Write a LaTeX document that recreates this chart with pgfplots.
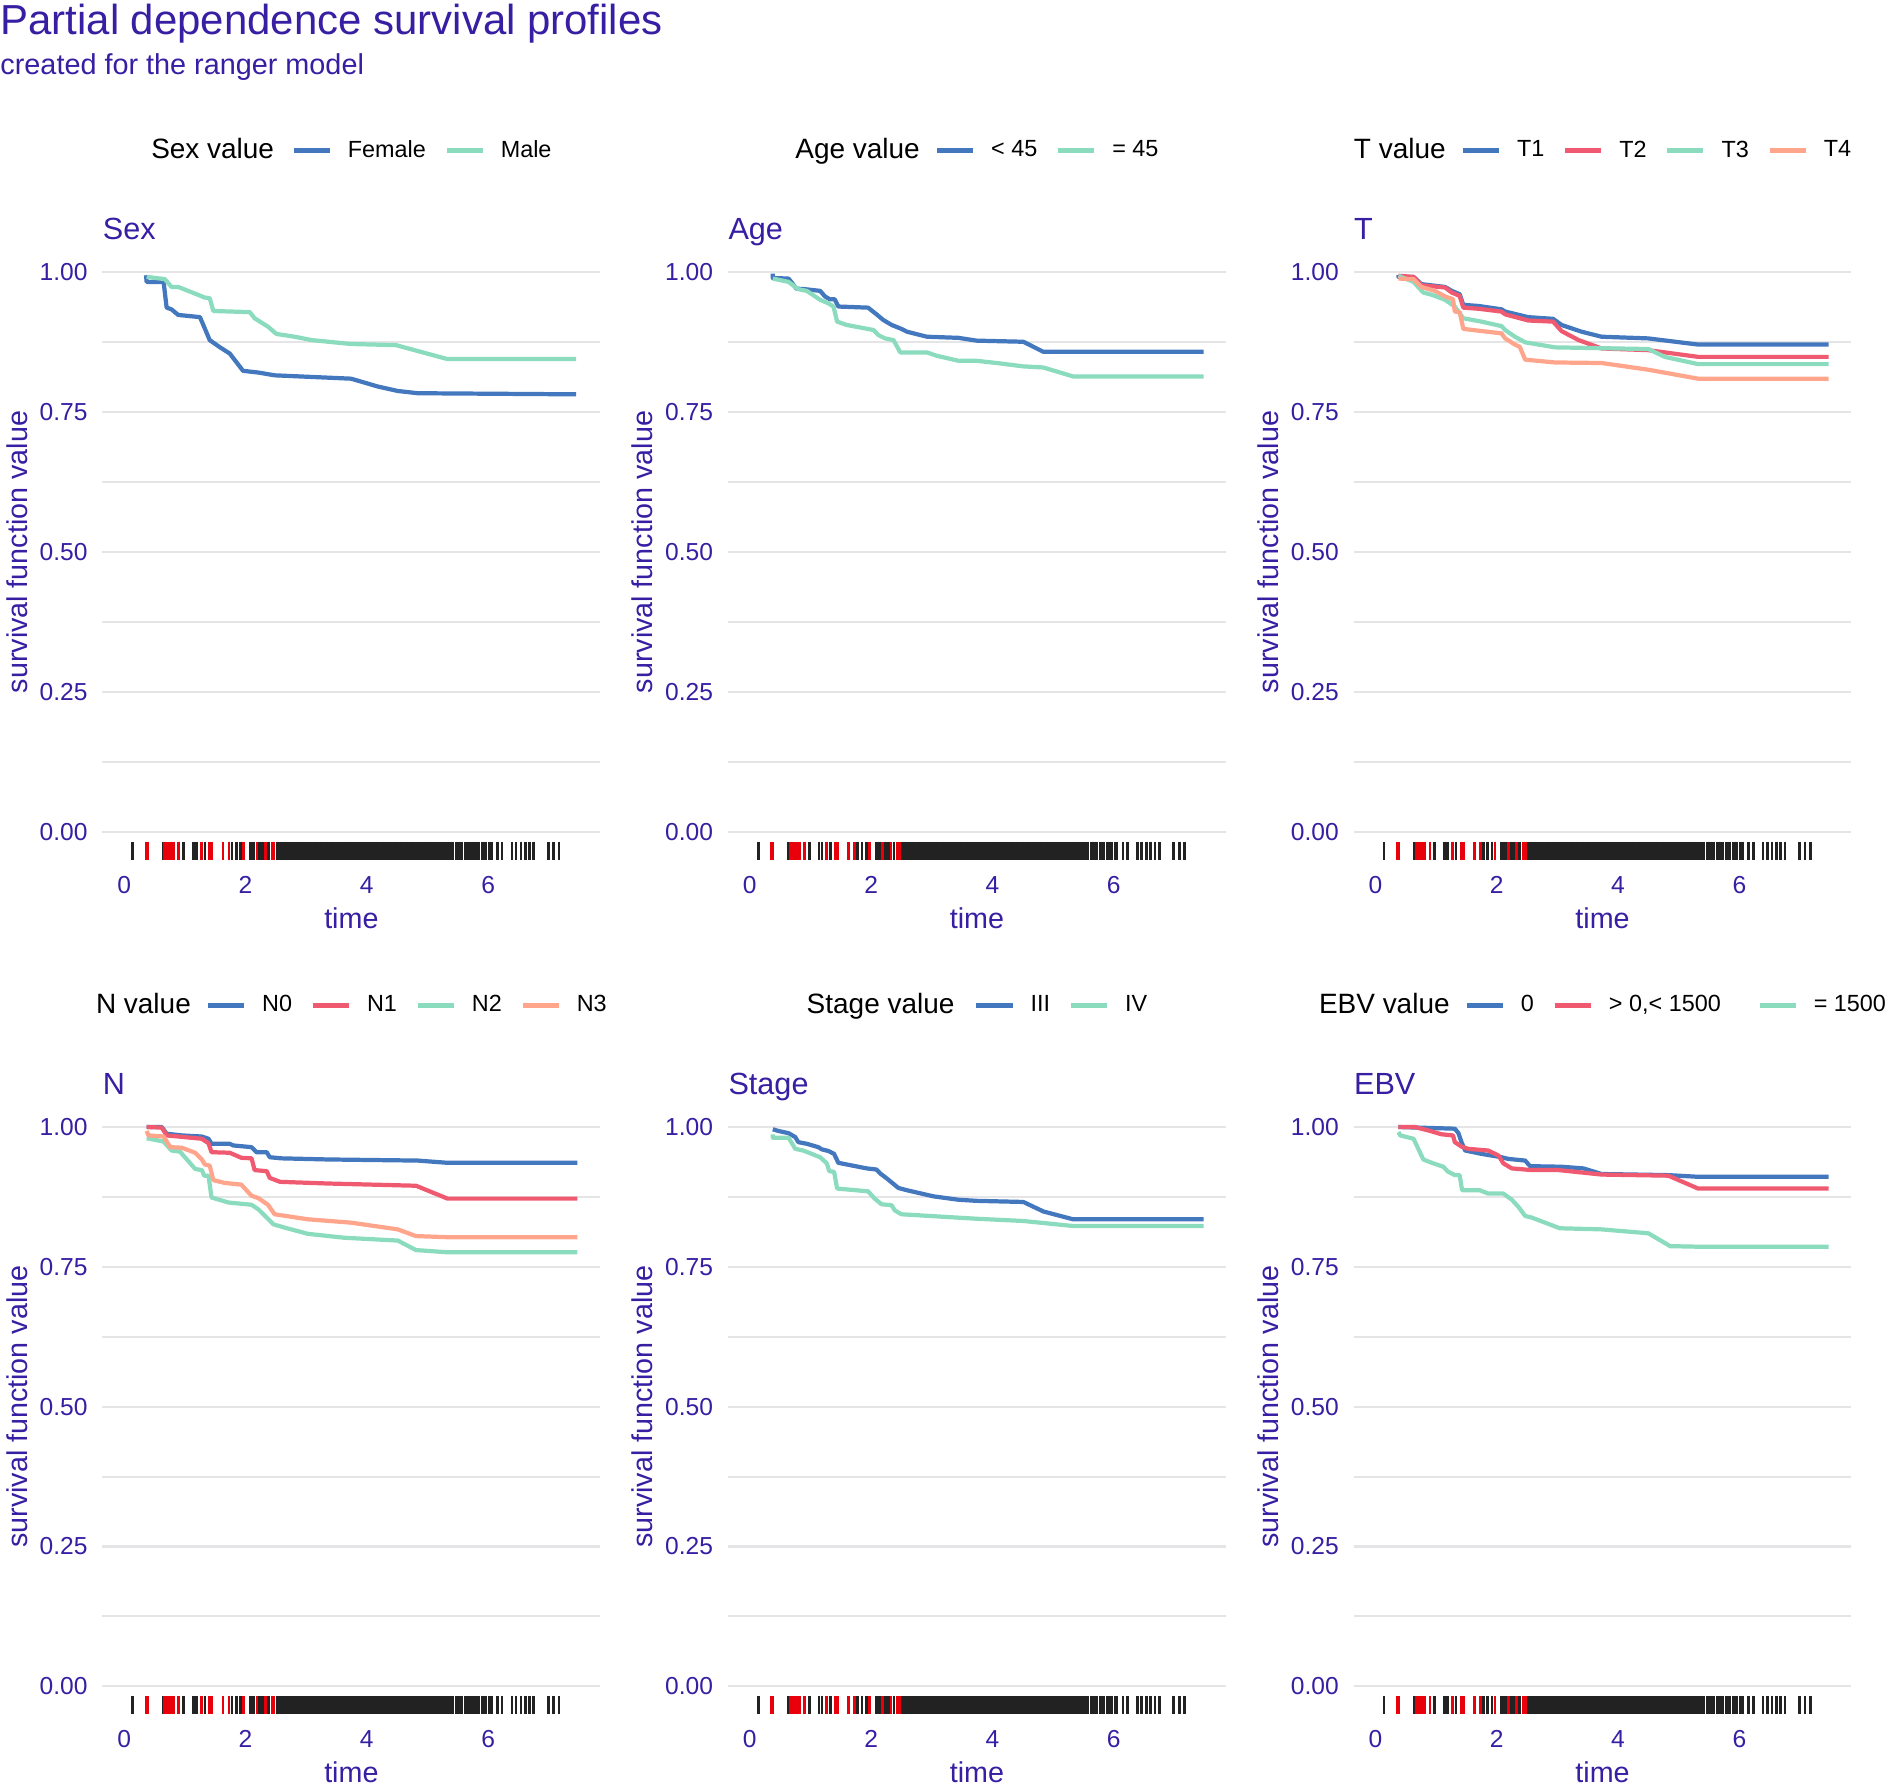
\documentclass[border=0pt]{standalone}
\usepackage{fontspec}
\setmainfont{Liberation Sans}
\usepackage{pgfplots}
\usepackage{pgfplotstable}
\pgfplotsset{compat=1.18}

\definecolor{dwblue}{HTML}{4378BF}
\definecolor{dwred}{HTML}{F05A71}
\definecolor{dwgreen}{HTML}{8BDCBE}
\definecolor{dworange}{HTML}{FFA58C}
\definecolor{dwtitle}{HTML}{371EA3}
\definecolor{gridgray}{HTML}{E5E5E7}
\definecolor{rugblack}{HTML}{222222}
\definecolor{rugred}{HTML}{E8000B}

\pgfdeclareplotmark{rugtick}{%
  \pgfpathmoveto{\pgfqpoint{0pt}{\pgfplotmarksize}}%
  \pgfpathlineto{\pgfqpoint{0pt}{-\pgfplotmarksize}}%
  \pgfusepathqstroke}

% ---------------- rug ----------------
\pgfplotstableread{
t y
0.14 -0.034
0.64 -0.034
0.98 -0.034
1.14 -0.034
1.19 -0.034
1.33 -0.034
1.78 -0.034
1.85 -0.034
1.92 -0.034
2.08 -0.034
2.11 -0.034
2.14 -0.034
2.23 -0.034
2.27 -0.034
2.30 -0.034
2.38 -0.034
2.52 -0.034
2.56 -0.034
2.60 -0.034
2.63 -0.034
2.67 -0.034
2.71 -0.034
2.75 -0.034
2.79 -0.034
2.82 -0.034
2.86 -0.034
2.90 -0.034
2.94 -0.034
2.98 -0.034
3.02 -0.034
3.06 -0.034
3.10 -0.034
3.14 -0.034
3.18 -0.034
3.22 -0.034
3.26 -0.034
3.30 -0.034
3.34 -0.034
3.38 -0.034
3.42 -0.034
3.46 -0.034
3.50 -0.034
3.54 -0.034
3.58 -0.034
3.62 -0.034
3.66 -0.034
3.70 -0.034
3.74 -0.034
3.78 -0.034
3.82 -0.034
3.86 -0.034
3.90 -0.034
3.94 -0.034
3.98 -0.034
4.02 -0.034
4.06 -0.034
4.10 -0.034
4.14 -0.034
4.18 -0.034
4.22 -0.034
4.26 -0.034
4.30 -0.034
4.34 -0.034
4.38 -0.034
4.42 -0.034
4.46 -0.034
4.50 -0.034
4.54 -0.034
4.58 -0.034
4.62 -0.034
4.66 -0.034
4.70 -0.034
4.74 -0.034
4.78 -0.034
4.82 -0.034
4.86 -0.034
4.90 -0.034
4.94 -0.034
4.98 -0.034
5.02 -0.034
5.06 -0.034
5.10 -0.034
5.14 -0.034
5.18 -0.034
5.22 -0.034
5.26 -0.034
5.30 -0.034
5.34 -0.034
5.38 -0.034
5.42 -0.034
5.47 -0.034
5.50 -0.034
5.53 -0.034
5.57 -0.034
5.63 -0.034
5.66 -0.034
5.69 -0.034
5.72 -0.034
5.78 -0.034
5.81 -0.034
5.84 -0.034
5.90 -0.034
5.93 -0.034
5.96 -0.034
6.02 -0.034
6.05 -0.034
6.15 -0.034
6.23 -0.034
6.39 -0.034
6.46 -0.034
6.54 -0.034
6.61 -0.034
6.68 -0.034
6.75 -0.034
6.99 -0.034
7.08 -0.034
7.17 -0.034
}\rugblk
\pgfplotstableread{
t y
0.36 -0.034
0.38 -0.034
0.67 -0.034
0.70 -0.034
0.73 -0.034
0.76 -0.034
0.79 -0.034
0.82 -0.034
0.90 -0.034
1.27 -0.034
1.41 -0.034
1.45 -0.034
1.63 -0.034
1.73 -0.034
1.97 -0.034
2.19 -0.034
2.33 -0.034
2.44 -0.034
2.47 -0.034
}\rugred

% ---------------- Sex ----------------
\pgfplotstableread{
t v
0.36 0.995
0.37 0.983
0.65 0.983
0.70 0.937
0.78 0.934
0.89 0.924
1.25 0.920
1.41 0.879
1.58 0.866
1.74 0.855
1.96 0.824
2.21 0.821
2.48 0.816
3.74 0.810
4.18 0.796
4.51 0.788
4.84 0.784
7.45 0.782
}\sexF
\pgfplotstableread{
t v
0.37 0.992
0.67 0.988
0.78 0.974
0.89 0.974
1.17 0.962
1.33 0.955
1.41 0.954
1.47 0.931
2.07 0.929
2.15 0.918
2.37 0.903
2.51 0.890
2.81 0.885
3.09 0.879
3.74 0.872
4.48 0.870
5.33 0.845
7.45 0.845
}\sexM
% ---------------- Age ----------------
\pgfplotstableread{
t v
0.38 0.998
0.38 0.990
0.64 0.989
0.77 0.971
0.91 0.970
1.16 0.967
1.24 0.957
1.32 0.952
1.40 0.952
1.46 0.939
1.95 0.937
2.09 0.925
2.20 0.915
2.34 0.906
2.50 0.899
2.59 0.894
2.92 0.885
3.44 0.883
3.74 0.878
4.51 0.876
4.84 0.858
7.48 0.858
}\ageA
\pgfplotstableread{
t v
0.38 0.989
0.64 0.983
0.80 0.970
0.94 0.967
1.16 0.951
1.29 0.945
1.38 0.939
1.44 0.912
1.60 0.906
2.04 0.897
2.12 0.888
2.23 0.882
2.37 0.879
2.48 0.857
2.92 0.857
3.08 0.851
3.44 0.842
3.74 0.842
4.07 0.838
4.51 0.832
4.84 0.830
5.33 0.814
7.48 0.814
}\ageB
% ---------------- T ----------------
\pgfplotstableread{
t v
0.38 0.995
0.38 0.992
0.63 0.992
0.76 0.979
1.15 0.974
1.26 0.967
1.39 0.961
1.45 0.942
1.70 0.940
2.08 0.934
2.14 0.930
2.52 0.920
2.93 0.917
3.07 0.906
3.40 0.894
3.73 0.885
4.50 0.882
5.32 0.871
7.47 0.871
}\tA
\pgfplotstableread{
t v
0.38 0.994
0.63 0.992
0.76 0.977
1.15 0.973
1.26 0.964
1.39 0.958
1.45 0.937
1.70 0.935
2.08 0.930
2.14 0.925
2.52 0.914
2.93 0.912
3.07 0.895
3.35 0.879
3.73 0.864
4.50 0.861
5.32 0.849
7.47 0.849
}\tB
\pgfplotstableread{
t v
0.38 0.994
0.63 0.983
0.79 0.964
0.93 0.960
1.15 0.951
1.31 0.939
1.45 0.918
1.75 0.912
2.08 0.904
2.14 0.897
2.30 0.885
2.47 0.875
2.96 0.866
4.50 0.863
4.77 0.849
5.32 0.836
7.47 0.836
}\tC
\pgfplotstableread{
t v
0.38 0.989
0.63 0.988
0.76 0.974
0.98 0.967
1.15 0.957
1.28 0.952
1.31 0.930
1.39 0.929
1.45 0.899
2.08 0.891
2.14 0.882
2.30 0.871
2.38 0.867
2.47 0.844
2.96 0.839
3.73 0.838
4.50 0.826
5.32 0.810
7.47 0.810
}\tD
% ---------------- N ----------------
\pgfplotstableread{
t v
0.37 1.000
0.62 1.000
0.70 0.988
0.95 0.985
1.28 0.983
1.39 0.979
1.44 0.970
1.74 0.970
1.80 0.967
2.10 0.964
2.18 0.955
2.35 0.955
2.40 0.946
2.59 0.944
3.36 0.942
4.84 0.940
5.33 0.936
7.47 0.936
}\nA
\pgfplotstableread{
t v
0.37 1.000
0.62 0.999
0.70 0.985
1.28 0.979
1.39 0.971
1.44 0.955
1.74 0.954
1.93 0.945
2.10 0.944
2.15 0.923
2.35 0.921
2.40 0.909
2.57 0.902
3.36 0.899
4.81 0.895
5.33 0.872
7.47 0.872
}\nB
\pgfplotstableread{
t v
0.37 0.980
0.65 0.974
0.78 0.958
0.92 0.956
1.17 0.925
1.28 0.923
1.32 0.913
1.39 0.913
1.44 0.874
1.72 0.865
2.10 0.861
2.21 0.853
2.46 0.826
2.65 0.820
3.03 0.809
3.63 0.802
4.51 0.797
4.81 0.780
5.33 0.776
7.47 0.776
}\nC
\pgfplotstableread{
t v
0.37 0.993
0.40 0.985
0.65 0.983
0.76 0.964
0.95 0.963
1.17 0.954
1.28 0.942
1.33 0.933
1.41 0.931
1.47 0.905
1.66 0.900
1.93 0.897
2.10 0.877
2.21 0.873
2.37 0.861
2.48 0.844
3.03 0.835
3.74 0.829
4.51 0.817
4.81 0.805
5.33 0.803
7.47 0.803
}\nD
% ---------------- Stage ----------------
\pgfplotstableread{
t v
0.38 0.996
0.47 0.993
0.64 0.989
0.75 0.982
0.80 0.973
0.94 0.970
1.13 0.964
1.19 0.960
1.30 0.957
1.39 0.952
1.46 0.936
1.60 0.933
1.93 0.926
2.09 0.924
2.15 0.917
2.26 0.908
2.45 0.891
2.59 0.887
3.03 0.876
3.44 0.870
3.74 0.868
4.51 0.866
4.84 0.849
5.33 0.835
7.48 0.835
}\stA
\pgfplotstableread{
t v
0.38 0.987
0.38 0.981
0.64 0.981
0.75 0.961
0.88 0.958
1.16 0.946
1.27 0.935
1.31 0.921
1.39 0.920
1.44 0.890
1.95 0.885
2.06 0.872
2.17 0.862
2.34 0.860
2.39 0.851
2.50 0.844
3.74 0.836
4.51 0.832
5.33 0.823
7.48 0.823
}\stB
% ---------------- EBV ----------------
\pgfplotstableread{
t v
0.38 1.000
1.31 0.997
1.37 0.989
1.42 0.973
1.48 0.958
1.75 0.952
2.08 0.946
2.19 0.943
2.47 0.940
2.55 0.930
3.07 0.929
3.43 0.926
3.73 0.916
4.83 0.914
5.32 0.911
7.47 0.911
}\eA
\pgfplotstableread{
t v
0.38 1.000
0.65 1.000
0.87 0.994
1.09 0.987
1.28 0.985
1.31 0.973
1.42 0.965
1.53 0.961
1.86 0.958
2.03 0.949
2.11 0.935
2.25 0.926
2.58 0.923
3.02 0.923
3.73 0.915
4.83 0.913
5.32 0.890
7.47 0.890
}\eB
\pgfplotstableread{
t v
0.38 0.991
0.41 0.985
0.63 0.979
0.79 0.942
0.93 0.936
1.12 0.929
1.20 0.920
1.31 0.914
1.39 0.914
1.43 0.887
1.72 0.887
1.86 0.881
2.11 0.881
2.25 0.870
2.36 0.857
2.47 0.841
2.58 0.838
3.04 0.819
3.73 0.817
4.50 0.810
4.86 0.787
5.32 0.786
7.47 0.786
}\eC

\newcommand{\legtitle}[1]{\fontsize{11.6}{13}\selectfont\hspace*{-6.5pt}#1\hspace*{-1.5pt}}
\newcommand{\rugplots}{%
  \addplot[forget plot, draw=rugblack, only marks, mark=rugtick, mark size=3.75pt, mark options={draw=rugblack, line width=1.1pt}] table[x=t,y=y]{\rugblk};
  \addplot[forget plot, draw=rugred, only marks, mark=rugtick, mark size=3.75pt, mark options={draw=rugred, line width=1.1pt}] table[x=t,y=y]{\rugred};
}

\pgfplotsset{
  panel/.style={
    scale only axis, width=206.5pt, height=255.2pt,
    anchor=south west,
    xmin=-0.358, xmax=7.848, ymin=-0.05, ymax=1.05,
    axis line style={draw=none},
    major tick length=0pt, minor tick length=0pt,
    xtick={0,2,4,6},
    ytick={0,0.25,0.5,0.75,1},
    minor ytick={0.125,0.375,0.625,0.875},
    ymajorgrids, yminorgrids,
    major grid style={draw=gridgray, line width=0.85pt},
    minor grid style={draw=gridgray, line width=0.85pt},
    /pgf/number format/assume math mode=true,
    yticklabel style={/pgf/number format/fixed, /pgf/number format/fixed zerofill, /pgf/number format/precision=2,
      anchor=east, xshift=-6pt, inner sep=0pt},
    xticklabel style={anchor=base, yshift=-13.9pt, inner sep=0pt},
    tick label style={font=\fontsize{10.2}{12}\selectfont, text=dwtitle},
    xlabel={time}, ylabel={survival function value},
    xlabel style={at={(axis description cs:0.5,-0.1117)}, anchor=base, inner sep=0pt,
      font=\fontsize{11.9}{14}\selectfont, text=dwtitle},
    ylabel style={at={(axis description cs:-0.172,0.5)}, anchor=center, inner sep=0pt,
      font=\fontsize{11.9}{14}\selectfont, text=dwtitle},
    title style={at={(axis description cs:0,1)}, anchor=base west, yshift=-4.1pt, inner sep=0pt,
      font=\fontsize{12.7}{15}\selectfont, text=dwtitle},
    curve/.style={mark=none, line width=1.75pt, line join=round},
    legend columns=-1,
    legend image code/.code={\draw[#1, line width=2pt] (0pt,0pt) -- (15pt,0pt);},
    legend style={at={(axis description cs:0.5,1)}, anchor=center, yshift=38.9pt,
      draw=none, fill=none, inner sep=0pt, outer sep=0pt,
      font=\fontsize{9.7}{11}\selectfont, text=black,
      nodes={inner sep=0pt},
      /tikz/every odd column/.append style={column sep=6.5pt},
      /tikz/every even column/.append style={column sep=7.6pt}},
  }
}

\begin{document}
\begin{tikzpicture}
\useasboundingbox (0,0) rectangle (784pt,-741.25pt);
\node[anchor=base west, inner sep=0pt, text=dwtitle, font=\fontsize{17.4}{20}\selectfont] at (0pt,-14.5pt) {Partial dependence survival profiles};
\node[anchor=base west, inner sep=0pt, text=dwtitle, font=\fontsize{11.95}{14}\selectfont] at (0pt,-30.75pt) {created for the ranger model};

% Sex
\begin{axis}[panel, at={(42.5pt,-356.6pt)}, title={Sex}]
\rugplots
\addlegendimage{empty legend}\addlegendentry{\legtitle{Sex value}\hspace*{1pt}}
\addplot[curve, dwblue] table[x=t,y=v]{\sexF}; \addlegendentry{Female}
\addplot[curve, dwgreen] table[x=t,y=v]{\sexM}; \addlegendentry{Male}
\end{axis}

% Age
\begin{axis}[panel, at={(302pt,-356.6pt)}, title={Age}]
\rugplots
\addlegendimage{empty legend}\addlegendentry{\legtitle{Age value}}
\addplot[curve, dwblue] table[x=t,y=v]{\ageA}; \addlegendentry{< 45}
\addplot[curve, dwgreen] table[x=t,y=v]{\ageB}; \addlegendentry{= 45}
\end{axis}

% T
\begin{axis}[panel, at={(561.5pt,-356.6pt)}, title={T}]
\rugplots
\addlegendimage{empty legend}\addlegendentry{\legtitle{T value}}
\addplot[curve, dwblue] table[x=t,y=v]{\tA}; \addlegendentry{T1}
\addplot[curve, dwred] table[x=t,y=v]{\tB}; \addlegendentry{T2}
\addplot[curve, dwgreen] table[x=t,y=v]{\tC}; \addlegendentry{T3}
\addplot[curve, dworange] table[x=t,y=v]{\tD}; \addlegendentry{T4}
\end{axis}

% N
\begin{axis}[panel, at={(42.5pt,-711.1pt)}, title={N}]
\rugplots
\addlegendimage{empty legend}\addlegendentry{\legtitle{N value}}
\addplot[curve, dwblue] table[x=t,y=v]{\nA}; \addlegendentry{N0}
\addplot[curve, dwred] table[x=t,y=v]{\nB}; \addlegendentry{N1}
\addplot[curve, dwgreen] table[x=t,y=v]{\nC}; \addlegendentry{N2}
\addplot[curve, dworange] table[x=t,y=v]{\nD}; \addlegendentry{N3}
\end{axis}

% Stage
\begin{axis}[panel, at={(302pt,-711.1pt)}, title={Stage}]
\rugplots
\addlegendimage{empty legend}\addlegendentry{\legtitle{Stage value}\hspace*{2pt}}
\addplot[curve, dwblue] table[x=t,y=v]{\stA}; \addlegendentry{III}
\addplot[curve, dwgreen] table[x=t,y=v]{\stB}; \addlegendentry{IV}
\end{axis}

% EBV
\begin{axis}[panel, at={(561.5pt,-711.1pt)}, title={EBV}]
\rugplots
\addlegendimage{empty legend}\addlegendentry{\legtitle{EBV value}}
\addplot[curve, dwblue] table[x=t,y=v]{\eA}; \addlegendentry{0}
\addplot[curve, dwred] table[x=t,y=v]{\eB}; \addlegendentry{> 0,< 1500\hspace*{7.5pt}}
\addplot[curve, dwgreen] table[x=t,y=v]{\eC}; \addlegendentry{= 1500}
\end{axis}
\end{tikzpicture}
\end{document}
